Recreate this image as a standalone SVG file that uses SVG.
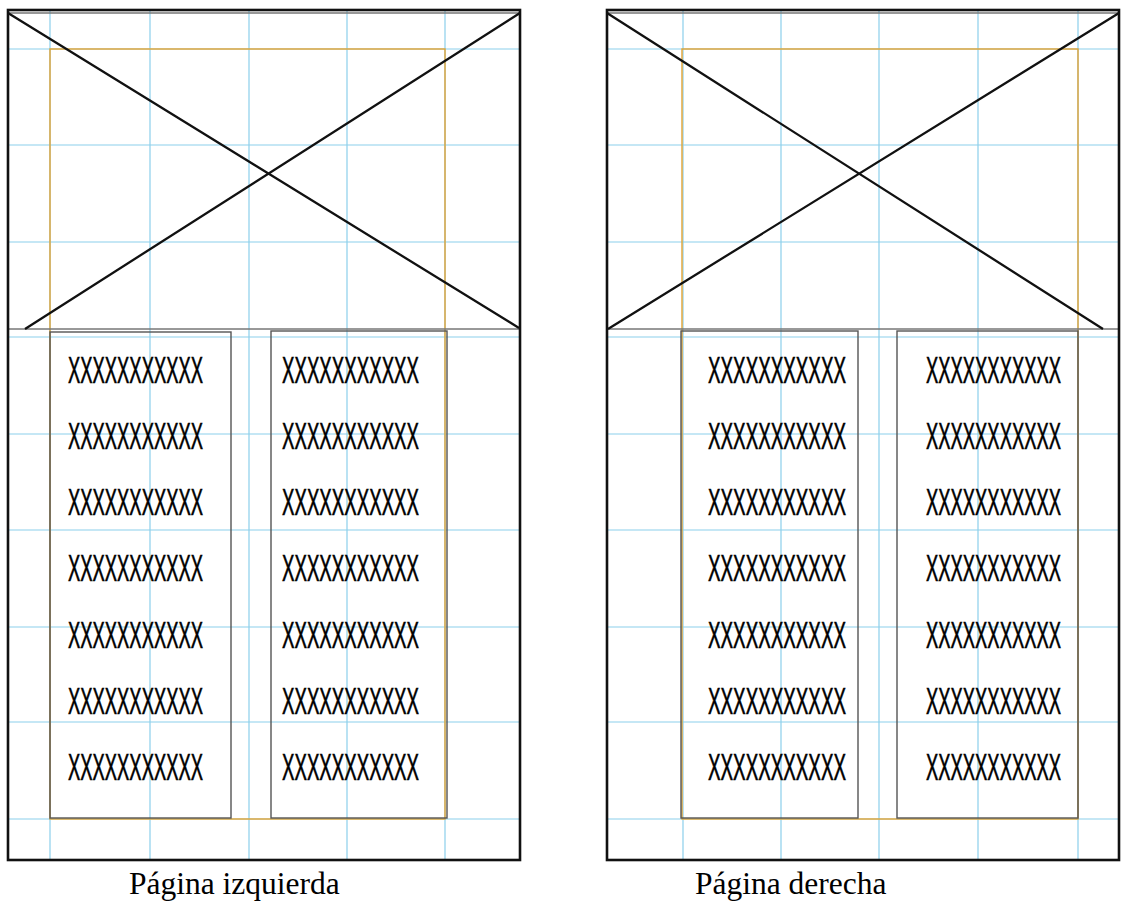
<svg xmlns="http://www.w3.org/2000/svg" width="1123" height="902" viewBox="0 0 1123 902">
<style>
.frame{fill:none;stroke:#111;stroke-width:2.6}
.grid{stroke:#8ccfeb;stroke-width:1.2;fill:none}
.margin{fill:none;stroke:#e3a434;stroke-width:1.4}
.img{fill:none;stroke:#777;stroke-width:1.5}
.diag{stroke:#111;stroke-width:2.3;fill:none}
.box{fill:none;stroke:#555;stroke-width:1.4}
.x{font-family:"Liberation Sans",Arial,sans-serif;font-size:36px;fill:#000;stroke:#000;stroke-width:0.6}
.label{font-family:"Liberation Serif","Times New Roman",serif;font-size:31.5px;fill:#000}
</style>
<rect width="1123" height="902" fill="#fff"/>
<g id="page-left">
  <g class="grid">
    <path d="M50 10V860M150 10V860M249 10V860M347 10V860M445 10V860"/>
    <path d="M8 49H520M8 145H520M8 242H520M8 337H520M8 434H520M8 530H520M8 627H520M8 722H520M8 819H520"/>
  </g>
  <rect class="margin" x="50" y="49" width="395" height="770"/>
  <rect class="img" x="8" y="13" width="512" height="316"/>
  <path class="diag" d="M8 13L519 328M520 13L25 329"/>
  <g id="left-col-a">
    <rect class="box" x="50" y="332" width="181" height="486"/>
    <text class="x" x="68" y="383" textLength="135" lengthAdjust="spacingAndGlyphs">XXXXXXXXXXX</text>
    <text class="x" x="68" y="449" textLength="135" lengthAdjust="spacingAndGlyphs">XXXXXXXXXXX</text>
    <text class="x" x="68" y="515" textLength="135" lengthAdjust="spacingAndGlyphs">XXXXXXXXXXX</text>
    <text class="x" x="68" y="581" textLength="135" lengthAdjust="spacingAndGlyphs">XXXXXXXXXXX</text>
    <text class="x" x="68" y="648" textLength="135" lengthAdjust="spacingAndGlyphs">XXXXXXXXXXX</text>
    <text class="x" x="68" y="714" textLength="135" lengthAdjust="spacingAndGlyphs">XXXXXXXXXXX</text>
    <text class="x" x="68" y="780" textLength="135" lengthAdjust="spacingAndGlyphs">XXXXXXXXXXX</text>
  </g>
  <g id="left-col-b">
    <rect class="box" x="271" y="331" width="176" height="487"/>
    <text class="x" x="282" y="383" textLength="137" lengthAdjust="spacingAndGlyphs">XXXXXXXXXXX</text>
    <text class="x" x="282" y="449" textLength="137" lengthAdjust="spacingAndGlyphs">XXXXXXXXXXX</text>
    <text class="x" x="282" y="515" textLength="137" lengthAdjust="spacingAndGlyphs">XXXXXXXXXXX</text>
    <text class="x" x="282" y="581" textLength="137" lengthAdjust="spacingAndGlyphs">XXXXXXXXXXX</text>
    <text class="x" x="282" y="648" textLength="137" lengthAdjust="spacingAndGlyphs">XXXXXXXXXXX</text>
    <text class="x" x="282" y="714" textLength="137" lengthAdjust="spacingAndGlyphs">XXXXXXXXXXX</text>
    <text class="x" x="282" y="780" textLength="137" lengthAdjust="spacingAndGlyphs">XXXXXXXXXXX</text>
  </g>
  <rect class="frame" x="8" y="10" width="512" height="850"/>
  <text class="label" x="129" y="894">Página izquierda</text>
</g>
<g id="page-right">
  <g class="grid">
    <path d="M683 10V860M781 10V860M879 10V860M978 10V860M1078 10V860"/>
    <path d="M607 49H1119M607 145H1119M607 242H1119M607 337H1119M607 434H1119M607 530H1119M607 627H1119M607 722H1119M607 819H1119"/>
  </g>
  <rect class="margin" x="682" y="49" width="396" height="770"/>
  <rect class="img" x="607" y="13" width="512" height="316"/>
  <path class="diag" d="M607 13L1103 329M1119 13L608 329"/>
  <g id="right-col-a">
    <rect class="box" x="681" y="331" width="177" height="487"/>
    <text class="x" x="708" y="383" textLength="138" lengthAdjust="spacingAndGlyphs">XXXXXXXXXXX</text>
    <text class="x" x="708" y="449" textLength="138" lengthAdjust="spacingAndGlyphs">XXXXXXXXXXX</text>
    <text class="x" x="708" y="515" textLength="138" lengthAdjust="spacingAndGlyphs">XXXXXXXXXXX</text>
    <text class="x" x="708" y="581" textLength="138" lengthAdjust="spacingAndGlyphs">XXXXXXXXXXX</text>
    <text class="x" x="708" y="648" textLength="138" lengthAdjust="spacingAndGlyphs">XXXXXXXXXXX</text>
    <text class="x" x="708" y="714" textLength="138" lengthAdjust="spacingAndGlyphs">XXXXXXXXXXX</text>
    <text class="x" x="708" y="780" textLength="138" lengthAdjust="spacingAndGlyphs">XXXXXXXXXXX</text>
  </g>
  <g id="right-col-b">
    <rect class="box" x="897" y="331" width="181" height="487"/>
    <text class="x" x="926" y="383" textLength="135" lengthAdjust="spacingAndGlyphs">XXXXXXXXXXX</text>
    <text class="x" x="926" y="449" textLength="135" lengthAdjust="spacingAndGlyphs">XXXXXXXXXXX</text>
    <text class="x" x="926" y="515" textLength="135" lengthAdjust="spacingAndGlyphs">XXXXXXXXXXX</text>
    <text class="x" x="926" y="581" textLength="135" lengthAdjust="spacingAndGlyphs">XXXXXXXXXXX</text>
    <text class="x" x="926" y="648" textLength="135" lengthAdjust="spacingAndGlyphs">XXXXXXXXXXX</text>
    <text class="x" x="926" y="714" textLength="135" lengthAdjust="spacingAndGlyphs">XXXXXXXXXXX</text>
    <text class="x" x="926" y="780" textLength="135" lengthAdjust="spacingAndGlyphs">XXXXXXXXXXX</text>
  </g>
  <rect class="frame" x="607" y="10" width="512" height="850"/>
  <text class="label" x="695" y="894">Página derecha</text>
</g>
</svg>
